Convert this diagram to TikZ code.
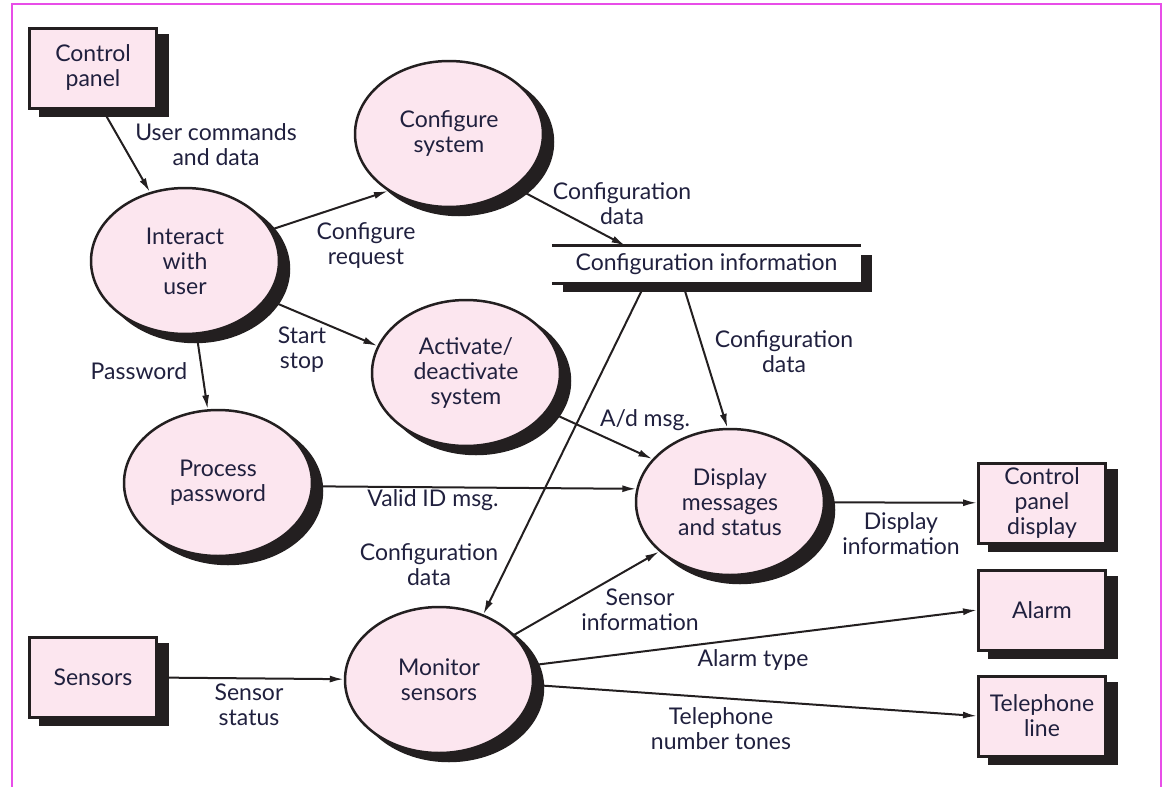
\documentclass[tikz,border=0pt]{standalone}
\usepackage{fontspec}
\setmainfont{Lato}
\usetikzlibrary{arrows.meta,shapes.geometric,shadows}
\definecolor{pinkfill}{RGB}{252,230,239}
\definecolor{shadowc}{RGB}{35,31,32}
\definecolor{inkc}{RGB}{32,32,62}
\definecolor{framec}{RGB}{232,78,232}
\begin{document}
\begin{tikzpicture}[>={Latex[length=14pt,width=7pt]}, x=1pt, y=-1pt,
  every node/.style={text=inkc, font=\fontsize{23}{25}\selectfont, align=center, inner sep=0pt},
  proc/.style={ellipse, draw=shadowc, line width=2.5pt, fill=pinkfill,
    minimum width=188pt, minimum height=146pt,
    general shadow={fill=shadowc, draw=shadowc, shadow xshift=10pt, shadow yshift=-8pt}},
  ext/.style={rectangle, draw=shadowc, line width=3pt, fill=pinkfill,
    minimum width=127pt, minimum height=80pt,
    general shadow={fill=shadowc, draw=shadowc, shadow xshift=11pt, shadow yshift=-7.5pt}},
  flow/.style={->, draw=shadowc, line width=2pt}]
\useasboundingbox (0,0) rectangle (1165,787);
\draw[framec, line width=2pt] (12,800)--(12,4)--(1161,4)--(1161,800);

% terminators
\node[ext] (panel) at (93,68) {Control\\panel};
\node[ext] (sensors) at (93,677) {Sensors};
\node[ext] (cpdisplay) at (1042,503) {Control\\panel\\display};
\node[ext] (alarm) at (1042,610) {Alarm};
\node[ext] (phone) at (1042,716) {Telephone\\line};

% processes
\node[proc] (interact) at (185,261) {Interact\\with\\user};
\node[proc] (config) at (449,134) {Configure\\system};
\node[proc] (activate) at (466,373) {Activate/\\deactivate\\system};
\node[proc] (password) at (218,483) {Process\\password};
\node[proc] (display) at (730,502) {Display\\messages\\and status};
\node[proc] (monitor) at (439,680) {Monitor\\sensors};

% data store
\node[fill=white, minimum width=309pt, minimum height=37pt,
  general shadow={fill=shadowc, shadow xshift=11pt, shadow yshift=-9pt}]
  (store) at (706.5,264.5) {Configuration information};
\draw[shadowc, line width=3pt] (store.north west)--(store.north east)
  (store.south west)--(store.south east);

% flows
\draw[flow] (panel.-77)--(interact.117);
\draw[flow] (interact.20)--(config.223);
\draw[flow] (config.-39)--(store.167);
\draw[flow] (interact.-25)--(activate.163);
\draw[flow] (interact.-81)--(password.98);
\draw[flow] (store.218)--(display.92);
\draw[flow] (store.197)--(monitor.56);
\draw[flow] (activate.-25)--(display.151);
\draw[flow] (password.-2)--(display.172);
\draw[flow] (display)--(cpdisplay);
\draw[flow] (sensors)--(monitor);
\draw[flow] (monitor.31)--(display.215);
\draw[flow] (monitor.9)--(alarm.west);
\draw[flow] (monitor.-3)--(phone.west);

% flow labels
\node (l-cmd) at (216,145) {User commands\\and data};
\node (l-creq) at (366,246) {Configure\\request};
\node (l-cdata1) at (622,204) {Configuration\\data};
\node (l-start) at (302,350) {Start\\stop};
\node (l-pwd) at (139,371) {Password};
\node (l-cdata2) at (784,352) {Configuration\\data};
\node (l-ad) at (645,420) {A/d msg.};
\node (l-valid) at (433,500) {Valid ID msg.};
\node (l-cdata3) at (429,565) {Configuration\\data};
\node (l-dinfo) at (901,534) {Display\\information};
\node (l-sstat) at (249,705) {Sensor\\status};
\node (l-sinfo) at (640,610) {Sensor\\information};
\node (l-atype) at (753,660) {Alarm type};
\node (l-tel) at (721,729) {Telephone\\number tones};
\end{tikzpicture}
\end{document}
